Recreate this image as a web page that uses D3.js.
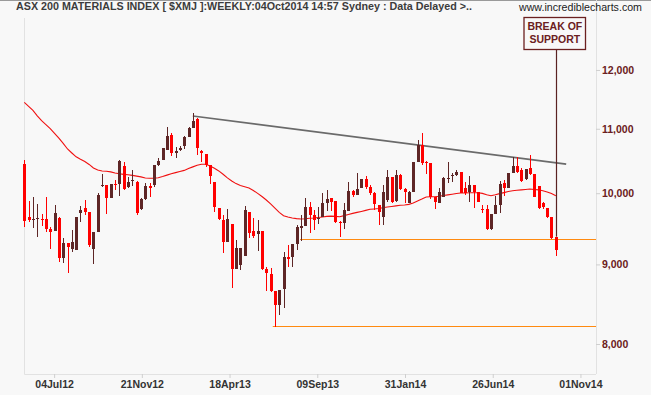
<!DOCTYPE html>
<html>
<head>
<meta charset="utf-8">
<script src="https://cdnjs.cloudflare.com/ajax/libs/d3/7.8.5/d3.min.js"></script>
<style>
  body { margin: 0; background: #f8f8f8; }
  svg { display: block; font-family: "Liberation Sans", Arial, sans-serif; }
</style>
</head>
<body>
<script>
// weekly bars, oldest first
const opens = [10440, 9655, 9618, 9625, 9632, 9625, 9491, 9460, 9640, 9090,
  9290, 9204, 9194, 9716, 9784, 9730, 9214, 9446, 10107, 10122,
  9925, 10142, 10133, 10411, 10087, 10175, 10172, 9769, 9915, 10107,
  10122, 10426, 10503, 10660, 10899, 10608, 10660, 10723, 10872, 11011,
  11160, 10649, 10597, 10426, 10167, 9788, 9611, 9308, 9554, 8939,
  8992, 9112, 9730, 9456, 9414, 9456, 8943, 8873, 8657, 8476,
  8675, 9099, 9095, 9276, 9502, 9526, 9803, 9683, 9628, 9659,
  9861, 9925, 9886, 9587, 9573, 9741, 10032, 9973, 10072, 10212,
  10096, 9999, 9827, 9659, 9900, 10243, 9886, 10273, 10062, 9856,
  10022, 10477, 10739, 10477, 10452, 9948, 9861, 9939, 10223, 10258,
  10273, 10318, 10072, 10022, 10122, 10022, 9769, 9765, 9484, 9697,
  9827, 10147, 10081, 10298, 10411, 10349, 10208, 10375, 10283, 10107,
  9852, 9788, 9659, 9377];
const highs = [10500, 9885, 9946, 9842, 9697, 9946, 9512, 9827, 9647, 9358,
  9294, 9470, 9661, 9813, 9900, 9730, 9446, 9999, 10288, 10122,
  10142, 10197, 10503, 10477, 10238, 10349, 10182, 9929, 10147, 10147,
  10426, 10534, 10692, 11025, 10926, 10712, 10723, 10883, 11025, 11254,
  11170, 10660, 10597, 10426, 10167, 9788, 9683, 9765, 9554, 9331,
  9221, 9813, 9730, 9644, 9611, 9456, 8970, 8948, 8657, 8666,
  9171, 9262, 9276, 9540, 9683, 9924, 9876, 9755, 9803, 9999,
  10047, 9929, 9886, 9597, 9861, 10172, 10047, 10298, 10212, 10258,
  10122, 10022, 9827, 10122, 10349, 10248, 10349, 10288, 10077, 10032,
  10477, 10819, 10926, 10487, 10452, 9948, 10077, 10248, 10472, 10298,
  10349, 10318, 10172, 10258, 10122, 10022, 9827, 9827, 9697, 9961,
  10182, 10197, 10298, 10555, 10555, 10375, 10365, 10581, 10283, 10107,
  9876, 9788, 9659, 9377];
const lows = [9510, 9585, 9498, 9372, 9526, 9442, 9214, 9456, 9032, 9023,
  8890, 9167, 9194, 9587, 9683, 9235, 8999, 9446, 10087, 9697,
  9925, 10047, 9963, 10047, 10072, 10107, 9683, 9755, 9900, 9948,
  10096, 10411, 10503, 10660, 10566, 10529, 10644, 10671, 10867, 11011,
  10581, 10477, 10400, 10137, 9725, 9618, 9157, 9308, 8687, 8939,
  8926, 9112, 9354, 9354, 9180, 8926, 8657, 8645, 8208, 8351,
  8434, 8969, 8969, 9194, 9317, 9526, 9428, 9470, 9550, 9659,
  9741, 9741, 9564, 9368, 9480, 9741, 9948, 9973, 10072, 10058,
  9973, 9755, 9540, 9540, 9876, 9856, 9876, 10047, 9852, 9852,
  10022, 10477, 10426, 10284, 9915, 9765, 9861, 9939, 10147, 10172,
  10258, 9999, 9973, 9876, 9779, 9876, 9707, 9470, 9470, 9697,
  9707, 9961, 10072, 10298, 10298, 10172, 10197, 10273, 9948, 9765,
  9765, 9635, 9340, 9112];
const closes = [9600, 9610, 9625, 9640, 9611, 9484, 9446, 9712, 9090, 9290,
  9239, 9303, 9654, 9755, 9730, 9262, 9442, 9973, 10122, 9934,
  10137, 10122, 10487, 10058, 10172, 10190, 9707, 9915, 10107, 10072,
  10426, 10495, 10687, 10883, 10608, 10649, 10696, 10862, 11011, 11132,
  10687, 10608, 10426, 10258, 9793, 9621, 9308, 9621, 8943, 9217,
  9217, 9755, 9433, 9386, 9456, 8935, 8882, 8657, 8476, 8666,
  9095, 9079, 9276, 9508, 9526, 9803, 9683, 9611, 9640, 9861,
  9915, 9876, 9587, 9564, 9755, 10032, 9973, 10058, 10212, 10096,
  9999, 9837, 9730, 10022, 10243, 9876, 10273, 10062, 10017, 10022,
  10477, 10739, 10452, 10452, 9939, 9876, 10017, 10233, 10235, 10273,
  10324, 10007, 10007, 10122, 10022, 9876, 9759, 9484, 9697, 9827,
  10133, 10081, 10298, 10411, 10324, 10182, 10365, 10283, 9948, 9779,
  9793, 9649, 9363, 9194];
// moving average as drawn on the chart
const ma = [11439, 11372, 11303, 11213, 11132, 11068, 11004, 10927, 10849, 10764,
  10676, 10613, 10553, 10514, 10479, 10435, 10380, 10349, 10335, 10329,
  10320, 10303, 10291, 10282, 10276, 10267, 10256, 10244, 10227, 10223,
  10223, 10232, 10250, 10271, 10293, 10309, 10326, 10343, 10371, 10397,
  10421, 10437, 10437, 10412, 10375, 10335, 10285, 10230, 10182, 10143,
  10113, 10095, 10077, 10040, 9997, 9951, 9900, 9844, 9781, 9721,
  9673, 9655, 9640, 9631, 9626, 9630, 9636, 9640, 9647, 9654,
  9663, 9667, 9663, 9658, 9674, 9690, 9706, 9720, 9734, 9749,
  9765, 9770, 9776, 9786, 9797, 9805, 9814, 9823, 9828, 9836,
  9856, 9884, 9913, 9944, 9948, 9948, 9954, 9965, 9975, 9985,
  9996, 10003, 10004, 10007, 10007, 10007, 9997, 9976, 9962, 9976,
  9994, 10009, 10025, 10036, 10043, 10049, 10055, 10062, 10056, 10050,
  10037, 10019, 9996, 9963];

const tickLabels = ["04Jul12", "21Nov12", "18Apr13", "09Sep13", "31Jan14", "26Jun14", "01Nov14"];
const priceTicks = [8000, 9000, 10000, 11000, 12000];
const resistance = [{ bar: 39, value: 11210 }, { bar: 125.4, value: 10440 }];
const supports = [{ bar: 57.5, value: 8215 }, { bar: 63.8, value: 9346 }];
const noteBar = 123;
const noteText = ["BREAK OF", "SUPPORT"];

const width = 651, height = 395;
const plot = { left: 24.3, right: 596, top: 18, bottom: 374 };

const bars = opens.map((o, i) => ({ i, o, h: highs[i], l: lows[i], c: closes[i] }));

const x = d3.scaleLinear().domain([0, 132.3]).range([plot.left, plot.right]);
const y = d3.scaleLog().domain([7653, 12959]).range([plot.bottom, plot.top]);

const svg = d3.select("body").append("svg")
  .attr("width", width)
  .attr("height", height);

svg.append("rect").attr("width", width).attr("height", height).attr("fill", "#f8f8f8");

// frame
svg.append("line").attr("x1", 0).attr("x2", width).attr("y1", 0.5).attr("y2", 0.5)
  .attr("stroke", "#9a9a9a");
svg.append("line").attr("x1", 24.5).attr("x2", 24.5).attr("y1", plot.top).attr("y2", plot.bottom)
  .attr("stroke", "#e2e2e2");
svg.append("line").attr("x1", plot.right + 0.5).attr("x2", plot.right + 0.5).attr("y1", 0).attr("y2", plot.bottom)
  .attr("stroke", "#e2e2e2");

// title
svg.append("text")
  .attr("x", 16).attr("y", 10)
  .attr("font-size", 10).attr("font-weight", "bold").attr("fill", "#3c3c3c")
  .attr("textLength", 456).attr("lengthAdjust", "spacingAndGlyphs")
  .text("ASX 200 MATERIALS INDEX [ $XMJ ]:WEEKLY:04Oct2014 14:57 Sydney : Data Delayed >..");
svg.append("text")
  .attr("x", 519).attr("y", 11)
  .attr("font-size", 10).attr("fill", "#222")
  .attr("textLength", 123).attr("lengthAdjust", "spacingAndGlyphs")
  .text("www.incrediblecharts.com");

// x axis
const xAxis = d3.axisBottom(x)
  .tickValues(d3.range(tickLabels.length).map(k => 6.9 + 20.3 * k))
  .tickFormat((d, k) => tickLabels[k])
  .tickSize(4).tickPadding(3);
const gx = svg.append("g").attr("transform", `translate(0,${plot.bottom})`).call(xAxis);
gx.select(".domain").attr("stroke", "#e2e2e2").attr("d", `M${plot.left},0.5H${plot.right}`);
gx.selectAll(".tick line").attr("stroke", "#cfcfcf");
gx.selectAll(".tick text")
  .attr("font-family", "Liberation Sans, Arial, sans-serif")
  .attr("font-size", 10.5).attr("font-weight", "bold").attr("fill", "#333");

// y axis (log)
const yAxis = d3.axisRight(y)
  .tickValues(priceTicks)
  .tickFormat(d3.format(","))
  .tickSize(4).tickPadding(2);
const gy = svg.append("g").attr("transform", `translate(${plot.right},0)`).call(yAxis);
gy.select(".domain").remove();
gy.selectAll(".tick line").attr("stroke", "#cfcfcf");
gy.selectAll(".tick text")
  .attr("font-family", "Liberation Sans, Arial, sans-serif")
  .attr("font-size", 10.5).attr("font-weight", "bold").attr("fill", "#6b2020");

// support lines
svg.selectAll(".support")
  .data(supports)
  .join("line")
  .attr("class", "support")
  .attr("x1", d => x(d.bar)).attr("x2", plot.right)
  .attr("y1", d => Math.round(y(d.value)) + 0.5).attr("y2", d => Math.round(y(d.value)) + 0.5)
  .attr("stroke", "#ff8a10").attr("stroke-width", 1.2);

// resistance line
svg.append("line")
  .attr("x1", x(resistance[0].bar)).attr("y1", y(resistance[0].value))
  .attr("x2", x(resistance[1].bar)).attr("y2", y(resistance[1].value))
  .attr("stroke", "#6a6a6a").attr("stroke-width", 1.6);

// moving average
svg.append("path")
  .datum(ma)
  .attr("fill", "none")
  .attr("stroke", "#f01010")
  .attr("stroke-width", 1.1)
  .attr("d", d3.line().x((d, i) => x(i)).y(d => y(d)));

// candles
const up = "#5e2626", down = "#ff0000";
const candle = svg.append("g").attr("shape-rendering", "crispEdges")
  .selectAll("g")
  .data(bars)
  .join("g");

candle.append("line")
  .attr("x1", d => Math.round(x(d.i)) + 0.5).attr("x2", d => Math.round(x(d.i)) + 0.5)
  .attr("y1", d => y(d.h)).attr("y2", d => y(d.l))
  .attr("stroke", d => d.c >= d.o ? up : down);

candle.append("rect")
  .attr("x", d => Math.round(x(d.i)) - 1)
  .attr("width", 3)
  .attr("y", d => y(Math.max(d.o, d.c)))
  .attr("height", d => Math.max(1, Math.abs(y(d.o) - y(d.c))))
  .attr("fill", d => d.c >= d.o ? up : down);

// annotation
const noteX = Math.round(x(noteBar)) + 0.5;
svg.append("line")
  .attr("x1", noteX).attr("x2", noteX)
  .attr("y1", 49).attr("y2", y(opens[noteBar]))
  .attr("stroke", "#5a2222").attr("stroke-width", 1.2);
svg.append("rect")
  .attr("x", 524).attr("y", 17.5).attr("width", 61.5).attr("height", 32)
  .attr("fill", "#f8f8f8").attr("stroke", "#6b2020").attr("stroke-width", 1.3);
svg.append("g")
  .selectAll("text")
  .data(noteText)
  .join("text")
  .attr("x", 554.8).attr("y", (d, k) => 29.5 + k * 13.5)
  .attr("text-anchor", "middle")
  .attr("font-size", 10.5).attr("font-weight", "bold").attr("fill", "#6b2020")
  .text(d => d);
</script>
</body>
</html>
